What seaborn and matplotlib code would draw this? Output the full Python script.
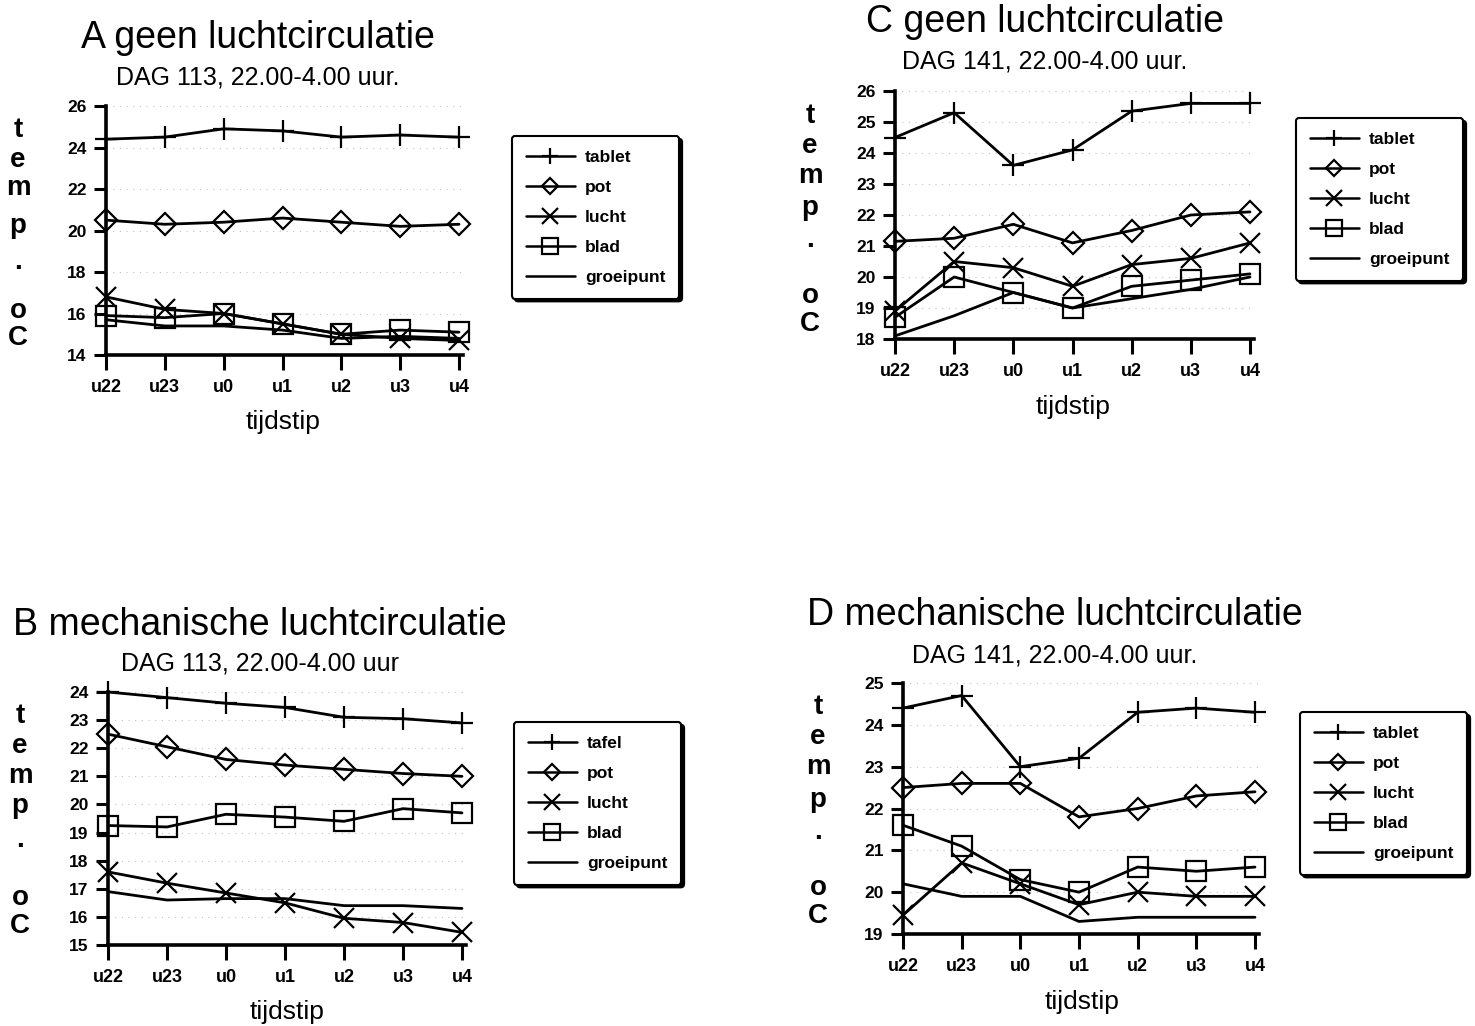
import numpy as np
import pandas as pd
import matplotlib
matplotlib.use("Agg")
import matplotlib.pyplot as plt
import seaborn as sns

# ---------------- data ----------------
tijd = ['u22', 'u23', 'u0', 'u1', 'u2', 'u3', 'u4']

A_tablet = [24.4, 24.5, 24.9, 24.8, 24.5, 24.6, 24.5]
A_pot = [20.5, 20.3, 20.4, 20.6, 20.4, 20.2, 20.3]
A_lucht = [16.8, 16.2, 16.0, 15.5, 15.0, 14.8, 14.7]
A_blad = [15.9, 15.8, 16.0, 15.5, 15.0, 15.2, 15.1]
A_groeipunt = [15.7, 15.4, 15.4, 15.2, 14.8, 14.9, 14.8]

C_tablet = [24.5, 25.3, 23.6, 24.1, 25.35, 25.6, 25.6]
C_pot = [21.15, 21.25, 21.7, 21.1, 21.5, 22.0, 22.1]
C_lucht = [18.9, 20.5, 20.3, 19.7, 20.4, 20.6, 21.1]
C_blad = [18.7, 20.0, 19.5, 19.0, 19.7, 19.9, 20.1]
C_groeipunt = [18.1, 18.75, 19.5, 19.0, 19.3, 19.6, 20.0]

B_tafel = [24.0, 23.8, 23.6, 23.45, 23.1, 23.05, 22.9]
B_pot = [22.5, 22.05, 21.6, 21.4, 21.25, 21.1, 21.0]
B_lucht = [17.6, 17.2, 16.85, 16.5, 15.95, 15.8, 15.45]
B_blad = [19.25, 19.2, 19.65, 19.55, 19.4, 19.85, 19.7]
B_groeipunt = [16.9, 16.6, 16.65, 16.65, 16.4, 16.4, 16.3]

D_tablet = [24.4, 24.7, 23.0, 23.2, 24.3, 24.4, 24.3]
D_pot = [22.5, 22.6, 22.6, 21.8, 22.0, 22.3, 22.4]
D_lucht = [19.45, 20.7, 20.2, 19.7, 20.0, 19.9, 19.9]
D_blad = [21.6, 21.1, 20.3, 20.0, 20.6, 20.5, 20.6]
D_groeipunt = [20.2, 19.9, 19.9, 19.3, 19.4, 19.4, 19.4]

titles = ['A geen luchtcirculatie', 'C geen luchtcirculatie',
          'B mechanische luchtcirculatie', 'D mechanische luchtcirculatie']
subtitles = ['DAG 113, 22.00-4.00 uur.', 'DAG 141, 22.00-4.00 uur.',
             'DAG 113, 22.00-4.00 uur', 'DAG 141, 22.00-4.00 uur.']
labels_AC = ['tablet', 'pot', 'lucht', 'blad', 'groeipunt']
labels_B = ['tafel', 'pot', 'lucht', 'blad', 'groeipunt']
ylims = [(14, 26), (18, 26), (15, 24), (19, 25)]
ysteps = [2, 1, 1, 1]
xlabel = 'tijdstip'
ylabel_letters = ['t', 'e', 'm', 'p', '.', 'o', 'C']

panels = [
    [A_tablet, A_pot, A_lucht, A_blad, A_groeipunt],
    [C_tablet, C_pot, C_lucht, C_blad, C_groeipunt],
    [B_tafel, B_pot, B_lucht, B_blad, B_groeipunt],
    [D_tablet, D_pot, D_lucht, D_blad, D_groeipunt],
]
panel_labels = [labels_AC, labels_AC, labels_B, labels_AC]

# ---------------- style ----------------
sns.set_style("white")
plt.rcParams['font.family'] = ['Liberation Sans', 'DejaVu Sans']
plt.rcParams['text.color'] = 'black'
plt.rcParams['xtick.color'] = 'black'
plt.rcParams['ytick.color'] = 'black'

W, H = 1475, 1026
fig = plt.figure(figsize=(W / 100, H / 100), dpi=100)
fig.patch.set_facecolor('white')

def fx(px):
    return px / W

def fy(py):
    return 1 - py / H

# layout in pixels: spine x, u4 x, top y, bottom y
layout = [
    dict(sx=106, ux=459, top=106, bot=355, tx=258, ty=38, stx=258, sty=78,
         xly=422, xlx=283, lx=18, ly=[130, 160, 188, 226, 262, 311, 338],
         leg=(512, 136)),
    dict(sx=895, ux=1250, top=91, bot=339, tx=1045, ty=22, stx=1045, sty=62,
         xly=407, xlx=1073, lx=810, ly=[116, 146, 176, 208, 240, 296, 324],
         leg=(1296, 118)),
    dict(sx=108, ux=462, top=692, bot=945, tx=260, ty=625, stx=260, sty=663,
         xly=1012, xlx=287, lx=20, ly=[716, 746, 776, 806, 840, 898, 926],
         leg=(514, 722)),
    dict(sx=903, ux=1255, top=683, bot=934, tx=1055, ty=615, stx=1055, sty=655,
         xly=1002, xlx=1082, lx=818, ly=[707, 737, 767, 800, 832, 888, 916],
         leg=(1300, 712)),
]

markers = ['+', 'D', 'x', 's', None]
msizes = [16, 11, 15, 15, 0]

for i in range(4):
    L = layout[i]
    unit = (L['ux'] - L['sx']) / 6.0
    right = L['sx'] + unit * 6.06
    ax = fig.add_axes([fx(L['sx']), fy(L['bot']), (right - L['sx']) / W,
                       (L['bot'] - L['top']) / H])
    for j, (vals, lab) in enumerate(zip(panels[i], panel_labels[i])):
        df = pd.DataFrame({'tijd': tijd, 'temp': vals})
        kw = dict(color='black', linewidth=2.0, label=lab, clip_on=False)
        if markers[j] is not None:
            kw.update(marker=markers[j], markersize=msizes[j],
                      markerfacecolor='none', markeredgecolor='black',
                      markeredgewidth=1.6)
        sns.lineplot(data=df, x='tijd', y='temp', ax=ax, sort=False, **kw)

    lo, hi = ylims[i]
    ax.set_ylim(lo, hi)
    ax.set_xlim(0, 6.06)
    ax.set_yticks(np.arange(lo, hi + 0.01, ysteps[i]))
    ax.set_xticks(range(len(tijd)))
    ax.set_xticklabels(tijd)
    for s in ['top', 'right']:
        ax.spines[s].set_visible(False)
    for s in ['left', 'bottom']:
        ax.spines[s].set_linewidth(2.6)
        ax.spines[s].set_color('black')
    ax.tick_params(axis='y', direction='out', length=9, width=2.2, pad=5,
                   labelsize=12.5, left=True)
    ax.tick_params(axis='x', direction='out', length=11, width=2.2, pad=6,
                   labelsize=13, bottom=True)
    for t in ax.get_xticklabels() + ax.get_yticklabels():
        t.set_fontweight('bold')
    ax.yaxis.grid(True, color='#c0c0c0', linestyle=(0, (1, 5)), linewidth=0.8)
    ax.set_axisbelow(True)
    ax.set_xlabel('')
    ax.set_ylabel('')

    # legend
    lx0, ly0 = L['leg']
    leg = ax.legend(loc='upper left', bbox_to_anchor=(fx(lx0), fy(ly0)),
                    bbox_transform=fig.transFigure, borderaxespad=0,
                    frameon=True, fancybox=True,
                    shadow={'color': 'black', 'alpha': 1.0},
                    handlelength=2.8, handletextpad=0.6, labelspacing=0.85,
                    borderpad=0.8, fontsize=12.5, markerscale=0.75)
    leg.get_frame().set_edgecolor('black')
    leg.get_frame().set_linewidth(1.5)
    leg.get_frame().set_facecolor('white')
    for t in leg.get_texts():
        t.set_fontweight('bold')
    for h in leg.legend_handles:
        h.set_linewidth(1.8)

    # titles
    fig.text(fx(L['tx']), fy(L['ty']), titles[i], ha='center', va='center',
             fontsize=27)
    fig.text(fx(L['stx']), fy(L['sty']), subtitles[i], ha='center',
             va='center', fontsize=18, fontweight='medium')
    fig.text(fx(L['xlx']), fy(L['xly']), xlabel, ha='center', va='center',
             fontsize=19)
    for letter, py in zip(ylabel_letters, L['ly']):
        fig.text(fx(L['lx']), fy(py), letter, ha='center', va='center',
                 fontsize=20, fontweight='bold')

fig.savefig('out.png', dpi=100, facecolor='white')
